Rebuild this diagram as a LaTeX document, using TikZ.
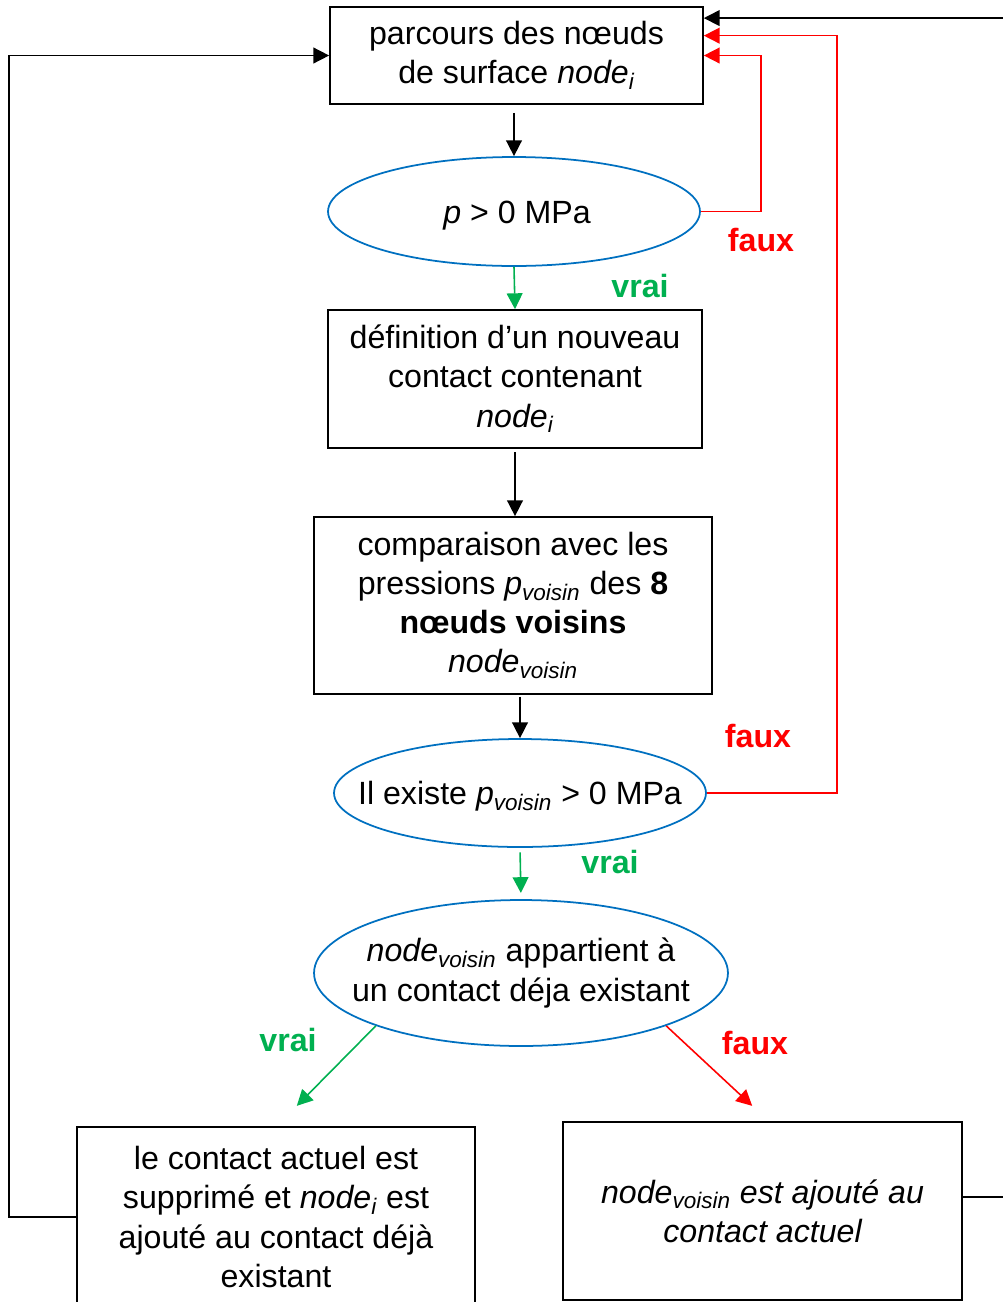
\documentclass[tikz,border=0pt]{standalone}
\usepackage{fontspec}
\setmainfont{Liberation Sans}
\usetikzlibrary{shapes.geometric,arrows.meta}
\definecolor{ellblue}{RGB}{0,112,192}
\definecolor{vraigreen}{RGB}{0,176,80}
\definecolor{fauxred}{RGB}{255,0,0}
\begin{document}
\begin{tikzpicture}[x=0.02cm, y=-0.02cm,
  every node/.style={font=\fontsize{18.3}{22.3}\selectfont},
  box/.style={draw, line width=1pt, align=center, inner sep=0pt},
  test/.style={draw=ellblue, ellipse, line width=1pt, inner sep=0pt},
  lbl/.style={font=\fontsize{18.3}{22.3}\selectfont\bfseries},
  arr/.style={-{Triangle[length=9pt,width=9pt]}, line width=0.9pt}]
  \useasboundingbox (0,0) rectangle (1002,1302);
  % Boxes
  \node[box, minimum width=7.46cm, minimum height=1.94cm] (b1) at (516.5,55.5)
    {parcours des nœuds\\de surface \textit{node\textsubscript{i}}};
  \node[box, minimum width=7.48cm, minimum height=2.76cm] (b2) at (515,379)
    {définition d’un nouveau\\contact contenant\\\textit{node\textsubscript{i}}};
  \node[box, minimum width=7.96cm, minimum height=3.54cm] (b3) at (513,605.5)
    {comparaison avec les\\pressions \textit{p\textsubscript{voisin}} des \textbf{8}\\\textbf{nœuds voisins}\\\textit{node\textsubscript{voisin}}};
  \node[box, minimum width=7.96cm, minimum height=3.6cm] (b4) at (276,1217)
    {le contact actuel est\\supprimé et \textit{node\textsubscript{i}} est\\ajouté au contact déjà\\existant};
  \node[box, minimum width=7.98cm, minimum height=3.56cm] (b5) at (762.5,1211)
    {\itshape node\textsubscript{voisin} est ajouté au\\\itshape contact actuel};
  % Tests
  \node[test, minimum width=7.44cm, minimum height=2.18cm] (e1) at (514,211.5) {};
  \node (e1t) at (517,216) {\textit{p} > 0 MPa};
  \node[test, minimum width=7.44cm, minimum height=2.16cm] (e2) at (520,793) {};
  \node (e2t) at (520,796) {Il existe \textit{p\textsubscript{voisin}} > 0 MPa};
  \node[test, minimum width=8.28cm, minimum height=2.92cm] (e3) at (521,973) {};
  \node[align=center] (e3t) at (e3)
    {\textit{node\textsubscript{voisin}} appartient à\\un contact déja existant};
  % Labels
  \node[lbl, fauxred] (f1) at (761,240) {faux};
  \node[lbl, vraigreen] (v1) at (640,286) {vrai};
  \node[lbl, fauxred] (f2) at (758,736) {faux};
  \node[lbl, vraigreen] (v2) at (610,862) {vrai};
  \node[lbl, vraigreen] (v3) at (288,1040) {vrai};
  \node[lbl, fauxred] (f3) at (755,1043) {faux};
  % Entry points on the first box
  \coordinate (in1) at ([yshift=21.3pt]b1.east);
  \coordinate (in2) at ([yshift=11.3pt]b1.east);
  % Main flow
  \draw[arr, shorten <=4.5pt] (e1.north |- b1.south) -- (e1.north);
  \draw[arr, vraigreen] (e1.south) -- (b2.north);
  \draw[arr, shorten <=2pt] (b2.south) -- (b2.south |- b3.north);
  \draw[arr, shorten <=1pt] (e2.north |- b3.south) -- (e2.north);
  \draw[arr, vraigreen, shorten <=2.5pt, shorten >=3.5pt] (e2.south) -- (e3.north);
  \draw[arr, vraigreen] (e3.200) -- ++(-79,80);
  \draw[arr, fauxred] (e3.340) -- ++(86,80);
  % Loops back to the first box
  \draw[arr, fauxred] (e1.east) -- ++(60,0) |- (b1.east);
  \draw[arr, fauxred] (e2.east) -- ++(130,0) |- (in2);
  \draw[arr] (b4.west) -- ++(-67,0) |- (b1.west);
  \draw[arr] ([yshift=7.9pt]b5.east) -- ++(60,0) |- (in1);
\end{tikzpicture}
\end{document}
